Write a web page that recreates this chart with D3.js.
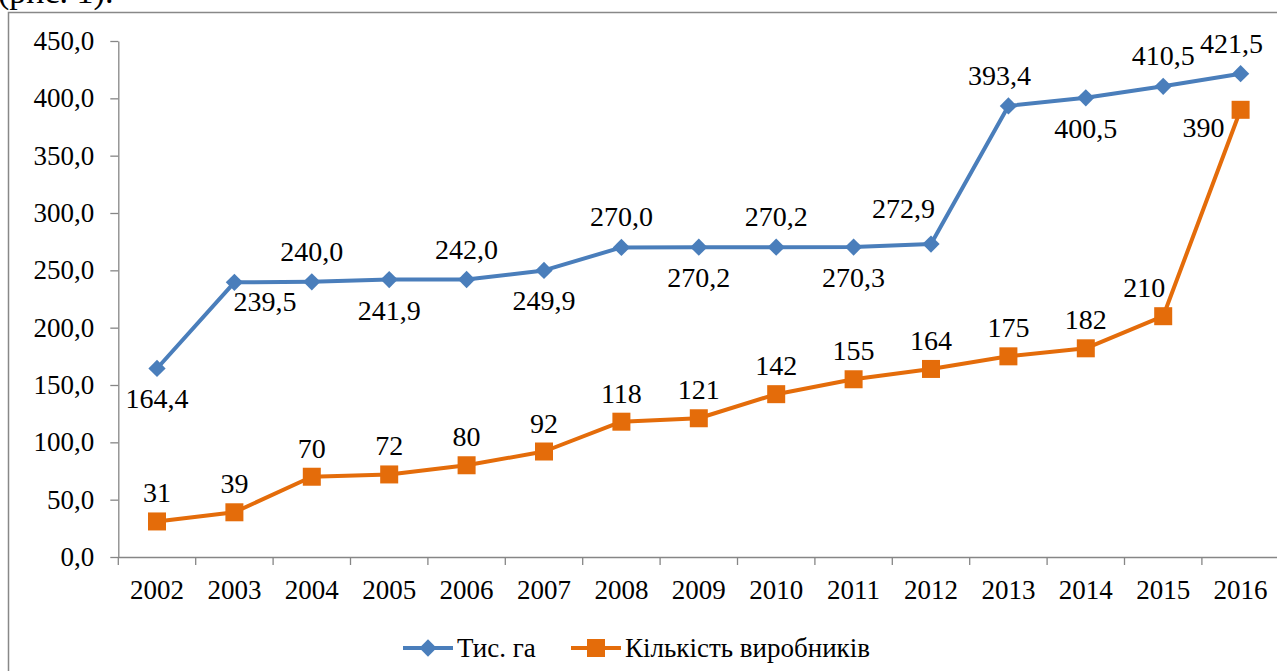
<!DOCTYPE html>
<html>
<head>
<meta charset="utf-8">
<script src="https://cdn.jsdelivr.net/npm/d3@7"></script>
<style>
  body { margin: 0; background: #fff; overflow: hidden; }
  svg text { font-family: "Liberation Serif", "Times New Roman", "DejaVu Serif", serif; fill: #000; }
</style>
</head>
<body>
<div id="chart"></div>
<script>
// chart data
let years = ["2002", "2003", "2004", "2005", "2006", "2007", "2008", "2009",
             "2010", "2011", "2012", "2013", "2014", "2015", "2016"];
let areaValues = [164.4, 239.5, 240.0, 241.9, 242.0, 249.9, 270.0, 270.2,
                  270.2, 270.3, 272.9, 393.4, 400.5, 410.5, 421.5];
let producerValues = [31, 39, 70, 72, 80, 92, 118, 121, 142, 155, 164, 175, 182, 210, 390];
let yTicks = [0, 50, 100, 150, 200, 250, 300, 350, 400, 450];
let seriesNames = ["Тис. га", "Кількість виробників"];

let width = 1277, height = 671;
let blue = "#4A7EBB", orange = "#E46C0A", axisColor = "#868686";
let serif = "'Liberation Serif', 'Times New Roman', 'DejaVu Serif', serif";

//where each data label sits relative to its marker
let areaLabelPos = ["below", "belowRight", "above", "below", "above", "below", "above", "below",
                    "above", "below", "aboveLeft", "above", "below", "above", "above"];

let svg = d3.select("#chart").append("svg")
    .attr("width", width)
    .attr("height", height)
    .attr("font-family", serif);

//caption cut at the top of the page
svg.append("text")
    .attr("x", -2)
    .attr("y", 3)
    .style("font-size", "34px")
    .text("(рис. 1).");

//chart border
svg.append("rect")
    .attr("x", 8.5)
    .attr("y", 12.5)
    .attr("width", 1300)
    .attr("height", 700)
    .attr("fill", "none")
    .attr("stroke", "#888")
    .attr("stroke-width", 1.5);

let x = d3.scaleBand()
    .domain(years)
    .range([118.3, 118.3 + 15 * 77.4]);
let y = d3.scaleLinear()
    .domain([0, 450])
    .range([557, 41]);
let cx = d => x(d) + x.bandwidth() / 2;

let fmt = v => d3.format(".1f")(v).replace(".", ",");

//y axis
let yAxis = svg.append("g")
    .attr("transform", "translate(118.3,0)")
    .call(d3.axisLeft(y).tickValues(yTicks).tickFormat(fmt).tickSize(8).tickSizeOuter(0).tickPadding(16));
yAxis.attr("font-family", serif);
yAxis.selectAll("text").style("font-size", "27px");
yAxis.select(".domain").attr("stroke", axisColor).attr("stroke-width", 1.3);
yAxis.selectAll(".tick line").attr("stroke", axisColor).attr("stroke-width", 1.3);

//x axis: labels in category centres, ticks on category boundaries
let xAxis = svg.append("g")
    .attr("transform", "translate(0,557)")
    .call(d3.axisBottom(x).tickSize(0).tickSizeOuter(0).tickPadding(23));
xAxis.attr("font-family", serif);
xAxis.selectAll("text").style("font-size", "27px");
xAxis.select(".domain").attr("stroke", axisColor).attr("stroke-width", 1.3);
xAxis.selectAll(".boundary")
    .data(years.concat(["end"]))
    .join("line")
    .attr("class", "boundary")
    .attr("x1", (d, i) => x.range()[0] + i * x.bandwidth())
    .attr("x2", (d, i) => x.range()[0] + i * x.bandwidth())
    .attr("y1", 0)
    .attr("y2", 8)
    .attr("stroke", axisColor)
    .attr("stroke-width", 1.3);

let line = d3.line()
    .x(d => cx(d.year))
    .y(d => y(d.value));

let areaData = years.map((yr, i) => ({year: yr, value: areaValues[i], pos: areaLabelPos[i]}));
let producerData = years.map((yr, i) => ({year: yr, value: producerValues[i]}));

//area series
svg.append("path")
    .datum(areaData)
    .attr("d", line)
    .attr("fill", "none")
    .attr("stroke", blue)
    .attr("stroke-width", 4)
    .attr("stroke-linejoin", "round");

svg.selectAll(".diamond")
    .data(areaData)
    .join("path")
    .attr("class", "diamond")
    .attr("d", d3.symbol(d3.symbolDiamond2, 190))
    .attr("transform", d => "translate(" + cx(d.year) + "," + y(d.value) + ")")
    .attr("fill", blue);

//producers series
svg.append("path")
    .datum(producerData)
    .attr("d", line)
    .attr("fill", "none")
    .attr("stroke", orange)
    .attr("stroke-width", 4)
    .attr("stroke-linejoin", "round");

svg.selectAll(".square")
    .data(producerData)
    .join("rect")
    .attr("class", "square")
    .attr("x", d => cx(d.year) - 9)
    .attr("y", d => y(d.value) - 9)
    .attr("width", 18)
    .attr("height", 18)
    .attr("fill", orange);

//data labels
function labelX(d) {
    if (d.pos === "belowRight") return cx(d.year) - 1;
    if (d.pos === "aboveLeft") return cx(d.year) + 4;
    if (d.year === "2013" || d.year === "2016") return cx(d.year) - 9;
    return cx(d.year);
}
function labelY(d) {
    if (d.pos === "belowRight") return y(d.value) + 29;
    if (d.pos === "aboveLeft") return y(d.value) - 26;
    return y(d.value) + (d.pos === "above" ? -21 : 40);
}
svg.selectAll(".area-label")
    .data(areaData)
    .join("text")
    .attr("class", "area-label")
    .attr("x", labelX)
    .attr("y", labelY)
    .attr("text-anchor", d => d.pos === "belowRight" ? "start" : d.pos === "aboveLeft" ? "end" : "middle")
    .style("font-size", "28px")
    .text(d => fmt(d.value));

svg.selectAll(".producer-label")
    .data(producerData)
    .join("text")
    .attr("class", "producer-label")
    .attr("x", d => d.year === "2016" ? cx(d.year) - 16 : cx(d.year) - (d.year === "2015" ? 19 : 0))
    .attr("y", d => d.year === "2016" ? y(d.value) + 27 : y(d.value) - 19)
    .attr("text-anchor", d => d.year === "2016" ? "end" : "middle")
    .style("font-size", "28px")
    .text(d => d.value);

//legend
let legend = svg.append("g").attr("transform", "translate(0,648)");
let legendItems = [
    {name: seriesNames[0], color: blue, x: 403, marker: "diamond"},
    {name: seriesNames[1], color: orange, x: 571, marker: "square"}
];
legendItems.forEach(function(item) {
    legend.append("line")
        .attr("x1", item.x)
        .attr("x2", item.x + 50)
        .attr("y1", 0)
        .attr("y2", 0)
        .attr("stroke", item.color)
        .attr("stroke-width", 4);
    if (item.marker === "diamond") {
        legend.append("path")
            .attr("d", d3.symbol(d3.symbolDiamond2, 190))
            .attr("transform", "translate(" + (item.x + 25) + ",0)")
            .attr("fill", item.color);
    } else {
        legend.append("rect")
            .attr("x", item.x + 16)
            .attr("y", -9)
            .attr("width", 18)
            .attr("height", 18)
            .attr("fill", item.color);
    }
    legend.append("text")
        .attr("x", item.x + 54)
        .attr("y", 9)
        .style("font-size", "27px")
        .text(item.name);
});
</script>
</body>
</html>
